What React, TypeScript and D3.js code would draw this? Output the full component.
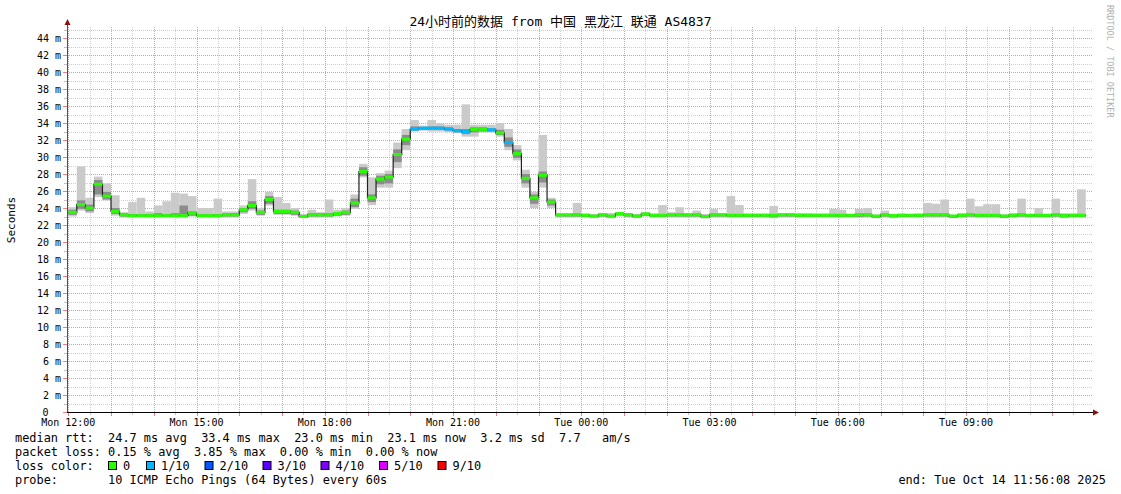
import React from 'react';
import * as d3 from 'd3';

// 12 minute consolidated steps, first one starts at Mon 11:48
const median = [
  23.5, 23.5, 24.4, 24.0, 26.8, 25.4, 23.6, 23.2, 23.1, 23.1,
  23.1, 23.1, 23.1, 23.1, 23.1, 23.4, 23.1, 23.1, 23.1, 23.2,
  23.2, 23.8, 24.3, 23.5, 25.0, 23.6, 23.6, 23.5, 23.0, 23.2,
  23.2, 23.2, 23.35, 23.5, 24.6, 28.3, 25.2, 27.4, 27.65, 30.3,
  32.1, 33.3, 33.4, 33.4, 33.4, 33.3, 33.1, 33.0, 33.26, 33.26,
  33.2, 32.85, 31.7, 30.4, 27.5, 25.2, 27.85, 24.7, 23.2, 23.2,
  23.2, 23.15, 23.05, 23.2, 23.05, 23.35, 23.2, 23.05, 23.3, 23.15,
  23.15, 23.2, 23.2, 23.2, 23.2, 23.0, 23.2, 23.2, 23.15, 23.15,
  23.15, 23.15, 23.15, 23.15, 23.2, 23.2, 23.15, 23.15, 23.15, 23.15,
  23.15, 23.15, 23.15, 23.2, 23.2, 23.05, 23.2, 23.1, 23.15, 23.15,
  23.15, 23.2, 23.2, 23.2, 23.05, 23.15, 23.2, 23.15, 23.15, 23.15,
  23.05, 23.15, 23.2, 23.15, 23.15, 23.15, 23.2, 23.1, 23.15, 23.15,
];

// highest ping of the step
const smokeHi = [
  24.1, 24.1, 28.9, 25.2, 27.7, 26.9, 25.5, 23.5, 24.7, 25.2,
  23.6, 24.3, 24.8, 25.8, 25.7, 25.4, 24.0, 24.0, 25.1, 23.6,
  23.6, 24.3, 27.4, 24.0, 25.9, 25.3, 24.6, 24.0, 23.3, 23.8,
  23.5, 25.0, 23.8, 24.0, 25.6, 29.2, 27.6, 28.1, 28.4, 31.7,
  33.3, 34.35, 33.7, 34.35, 33.96, 33.8, 33.8, 36.2, 33.8, 33.8,
  33.8, 34.0, 33.3, 31.4, 28.5, 25.9, 32.6, 25.2, 23.4, 23.4,
  24.6, 23.35, 23.3, 23.4, 23.4, 23.5, 23.4, 23.3, 23.5, 23.35,
  24.35, 23.5, 24.1, 23.35, 23.7, 23.3, 23.9, 23.35, 25.4, 24.35,
  23.35, 23.35, 23.35, 24.25, 23.35, 23.35, 23.4, 23.4, 23.35, 23.35,
  23.9, 23.8, 23.3, 23.9, 24.0, 23.2, 23.7, 23.25, 23.35, 23.3,
  23.35, 24.6, 24.5, 25.0, 23.2, 23.4, 25.1, 24.2, 24.45, 24.45,
  23.25, 23.4, 25.1, 23.3, 24.0, 23.3, 25.1, 23.4, 23.35, 26.2,
];

// lowest ping of the step
const smokeLo = [
  23.0, 23.0, 23.7, 23.4, 25.3, 24.9, 23.1, 22.9, 22.9, 22.9,
  22.9, 22.9, 22.9, 22.9, 22.9, 23.0, 22.9, 22.9, 22.9, 22.9,
  22.9, 23.3, 23.7, 23.1, 24.3, 23.2, 23.2, 23.1, 22.85, 22.9,
  22.9, 22.9, 23.0, 23.1, 23.9, 27.6, 24.35, 26.4, 26.4, 28.7,
  30.8, 33.0, 33.1, 33.0, 33.0, 32.9, 32.8, 32.4, 32.4, 32.9,
  32.9, 32.4, 30.8, 29.6, 26.4, 24.0, 26.4, 24.0, 22.9, 22.9,
  22.9, 22.85, 22.8, 22.9, 22.8, 23.0, 22.9, 22.8, 23.0, 22.85,
  22.85, 22.9, 22.9, 22.9, 22.9, 22.75, 22.9, 22.9, 22.85, 22.85,
  22.85, 22.85, 22.85, 22.8, 22.9, 22.9, 22.85, 22.85, 22.85, 22.85,
  22.85, 22.85, 22.85, 22.85, 22.9, 22.8, 22.9, 22.8, 22.85, 22.85,
  22.85, 22.9, 22.9, 22.9, 22.8, 22.85, 22.9, 22.85, 22.85, 22.85,
  22.8, 22.85, 22.9, 22.85, 22.85, 22.85, 22.9, 22.8, 22.85, 22.85,
];

// inner (darker) smoke band
const darkLo = [
  23.2, 23.2, 23.9, 23.6, 25.6, 25.0, 23.3, 23.0, 23.0, 23.0,
  23.0, 23.0, 23.0, 23.0, 23.0, 23.1, 23.0, 23.0, 23.0, 23.0,
  23.0, 23.5, 23.9, 23.2, 24.5, 23.3, 23.3, 23.2, 22.9, 23.0,
  23.0, 23.0, 23.1, 23.2, 24.1, 27.8, 24.7, 26.8, 26.9, 29.4,
  31.4, 33.1, 33.2, 33.2, 33.2, 33.1, 32.9, 32.7, 32.9, 33.0,
  33.0, 32.6, 31.2, 29.9, 26.9, 24.5, 27.0, 24.3, 23.0, 23.0,
  23.0, 22.95, 22.9, 23.0, 22.9, 23.15, 23.0, 22.9, 23.1, 22.95,
  22.95, 23.0, 23.0, 23.0, 23.0, 22.85, 23.0, 23.0, 22.95, 22.95,
  22.95, 22.95, 22.95, 22.9, 23.0, 23.0, 22.95, 22.95, 22.95, 22.95,
  22.95, 22.95, 22.95, 22.95, 23.0, 22.85, 23.0, 22.9, 22.95, 22.95,
  22.95, 23.0, 23.0, 23.0, 22.85, 22.95, 23.0, 22.95, 22.95, 22.95,
  22.85, 22.95, 23.0, 22.95, 22.95, 22.95, 23.0, 22.9, 22.95, 22.95,
];

const darkHi = [
  23.8, 23.8, 24.9, 24.4, 27.3, 25.9, 24.0, 23.4, 23.3, 23.3,
  23.3, 23.4, 23.3, 23.4, 24.3, 23.6, 23.3, 23.3, 23.3, 23.4,
  23.4, 24.0, 24.8, 23.7, 25.4, 23.8, 23.8, 23.7, 23.15, 23.4,
  23.4, 23.4, 23.5, 23.7, 25.1, 28.8, 25.6, 27.8, 28.0, 30.9,
  32.6, 33.6, 33.5, 33.6, 33.6, 33.5, 33.3, 33.3, 33.5, 33.5,
  33.4, 33.2, 32.3, 30.9, 28.0, 25.6, 28.3, 25.0, 23.3, 23.3,
  23.35, 23.3, 23.2, 23.35, 23.2, 23.45, 23.35, 23.2, 23.45, 23.3,
  23.3, 23.35, 23.35, 23.35, 23.35, 23.15, 23.35, 23.35, 23.3, 23.3,
  23.3, 23.3, 23.3, 23.3, 23.35, 23.35, 23.3, 23.3, 23.3, 23.3,
  23.3, 23.3, 23.3, 23.35, 23.35, 23.2, 23.35, 23.25, 23.3, 23.3,
  23.3, 23.35, 23.35, 23.35, 23.2, 23.3, 23.35, 23.3, 23.3, 23.3,
  23.2, 23.3, 23.35, 23.3, 23.3, 23.3, 23.35, 23.25, 23.3, 23.3,
];

// lost pings out of 10
const loss = [
  0, 0, 0, 0, 0, 0, 0, 0, 0, 0,
  0, 0, 0, 0, 0, 0, 0, 0, 0, 0,
  0, 0, 0, 0, 0, 0, 0, 0, 0, 0,
  0, 0, 0, 0, 0, 0, 0, 0, 0, 0,
  0, 1, 1, 1, 1, 1, 1, 1, 0, 0,
  1, 0, 1, 0, 0, 0, 0, 0, 0, 0,
  0, 0, 0, 0, 0, 0, 0, 0, 0, 0,
  0, 0, 0, 0, 0, 0, 0, 0, 0, 0,
  0, 0, 0, 0, 0, 0, 0, 0, 0, 0,
  0, 0, 0, 0, 0, 0, 0, 0, 0, 0,
  0, 0, 0, 0, 0, 0, 0, 0, 0, 0,
  0, 0, 0, 0, 0, 0, 0, 0, 0, 0,
];

const lossLevels = [0, 1, 2, 3, 4, 5, 9];
const lossLabels = ['0', '1/10', '2/10', '3/10', '4/10', '5/10', '9/10'];
const lossColors = ['#26ff00', '#00b8ff', '#0059ff', '#5e00ff', '#7e00ff', '#dd00ff', '#ff0000'];

const title = '24小时前的数据 from 中国 黑龙江 联通 AS4837';
const legendLines = [
  'median rtt:  24.7 ms avg  33.4 ms max  23.0 ms min  23.1 ms now  3.2 ms sd  7.7   am/s',
  'packet loss: 0.15 % avg  3.85 % max  0.00 % min  0.00 % now',
  'loss color:',
  'probe:       10 ICMP Echo Pings (64 Bytes) every 60s',
];
const endLabel = 'end: Tue Oct 14 11:56:08 2025';

const graphStart = new Date(2025, 9, 13, 11, 56, 8);
const graphEnd = new Date(2025, 9, 14, 11, 56, 8);
const firstStep = new Date(2025, 9, 13, 11, 48, 0);
const STEP = 12 * 60 * 1000;

const mono = '"DejaVu Sans Mono", monospace';

export default function App() {
  const left = 67, right = 1093, top = 27, bottom = 412;
  const x = d3.scaleTime().domain([graphStart, graphEnd]).range([65.5, 1091.5]);
  const y = d3.scaleLinear().domain([0, 45.3]).range([bottom, top]);
  const px = (v: number) => Math.round(v) + 0.5;

  const t0 = (i: number) => new Date(firstStep.getTime() + i * STEP);
  const t1 = (i: number) => new Date(firstStep.getTime() + (i + 1) * STEP);

  const pts: [number, number][] = median.map((m, i) => [x(t0(i)), y(m)]);
  pts.push([x(t1(median.length - 1)), y(median[median.length - 1])]);
  const medLine = d3.line().curve(d3.curveStepAfter)(pts) || '';

  const hours = d3.timeHour.range(graphStart, graphEnd);
  const halfHours = d3.timeMinute.every(30)!.range(graphStart, graphEnd).filter(d => d.getMinutes() === 30);
  const labelHours = hours.filter(d => d.getHours() % 3 === 0);
  const fmt = d3.timeFormat('%a %H:%M');

  const minorY = d3.range(1, 46, 2);
  const majorY = d3.range(0, 45, 2);
  const boxX = [108, 146, 204.5, 262.5, 320.5, 379, 437.5];

  return (
    <svg width={1121} height={494} style={{ position: 'absolute', left: 0, top: 0, background: '#fff' }}
      fontFamily={mono}>
      <defs>
        <clipPath id="plot">
          <rect x={left} y={top} width={right - left} height={bottom - top} />
        </clipPath>
      </defs>
      <rect width={1121} height={494} fill="#fff" />

      {/* grid */}
      {minorY.map(v => (
        <line key={'gy' + v} x1={left} x2={right} y1={px(y(v))} y2={px(y(v))}
          stroke="#cfcfcf" strokeDasharray="1,1" />
      ))}
      {halfHours.map(d => (
        <line key={'gx' + d.getTime()} x1={px(x(d))} x2={px(x(d))}
          y1={top} y2={bottom} stroke="#cfcfcf" strokeDasharray="1,1" />
      ))}
      {majorY.slice(1).map(v => (
        <line key={'my' + v} x1={left} x2={right} y1={px(y(v))} y2={px(y(v))}
          stroke="#f29595" strokeDasharray="1,1" />
      ))}
      {hours.map(d => (
        <line key={'mx' + d.getTime()} x1={px(x(d))} x2={px(x(d))}
          y1={top} y2={bottom} stroke="#f29595" strokeDasharray="1,1" />
      ))}

      {/* smoke */}
      <g clipPath="url(#plot)">
        {median.map((_, i) => (
          <rect key={'s' + i} x={x(t0(i))} width={x(t1(i)) - x(t0(i))}
            y={y(smokeHi[i])} height={y(smokeLo[i]) - y(smokeHi[i])} fill="#cacaca" />
        ))}
        {median.map((_, i) => (
          <rect key={'d' + i} x={x(t0(i))} width={x(t1(i)) - x(t0(i))}
            y={y(darkHi[i])} height={y(darkLo[i]) - y(darkHi[i])} fill="#8c8c8c" />
        ))}
        <path d={medLine} fill="none" stroke="#202020" strokeWidth={1.2} />
        {median.map((m, i) => (
          <line key={'m' + i} x1={x(t0(i))} x2={x(t1(i))} y1={y(m)} y2={y(m)}
            stroke={lossColors[lossLevels.indexOf(loss[i])]} strokeWidth={3} />
        ))}
      </g>

      {/* axis ticks */}
      {minorY.map(v => (
        <line key={'ty' + v} x1={left - 3} x2={left} y1={px(y(v))} y2={px(y(v))} stroke="#c0c0c0" />
      ))}
      {majorY.map(v => (
        <line key={'tY' + v} x1={left - 4} x2={left} y1={px(y(v))} y2={px(y(v))} stroke="#f08080" />
      ))}
      {halfHours.map(d => (
        <line key={'tx' + d.getTime()} x1={px(x(d))} x2={px(x(d))}
          y1={bottom} y2={bottom + 3} stroke="#c0c0c0" />
      ))}
      {hours.map(d => (
        <line key={'tX' + d.getTime()} x1={px(x(d))} x2={px(x(d))}
          y1={bottom} y2={bottom + 4} stroke="#f08080" />
      ))}

      {/* axes */}
      <line x1={left + 0.5} x2={left + 0.5} y1={bottom} y2={24} stroke="#505050" />
      <path d={`M${left - 2.5},25 L${left + 3.5},25 L${left + 0.5},19 Z`} fill="#8b1010" />
      <line x1={left} x2={1094} y1={bottom + 0.5} y2={bottom + 0.5} stroke="#000" />
      <path d={`M1093,${bottom - 2.5} L1093,${bottom + 3.5} L1099,${bottom + 0.5} Z`} fill="#8b1010" />

      {/* y labels */}
      {majorY.map(v => (
        v === 0
          ? <text key={'ly' + v} x={48.5} y={y(v) + 3.5} fontSize={10} textAnchor="end">0</text>
          : <text key={'ly' + v} x={61} y={y(v) + 3.5} fontSize={10} textAnchor="end">{`${v} m`}</text>
      ))}
      {/* x labels */}
      {labelHours.map(d => (
        <text key={'lx' + d.getTime()} x={x(d)} y={426} fontSize={10} textAnchor="middle">{fmt(d)}</text>
      ))}

      <text x={560.5} y={25.5} fontSize={13} textAnchor="middle"
        fontFamily={'"DejaVu Sans Mono", "Noto Sans CJK SC", monospace'}>{title}</text>

      <text transform="translate(15,220) rotate(-90)" fontSize={11} textAnchor="middle">Seconds</text>
      <text transform="translate(1107,5) rotate(90)" fontSize={8.5} fill="#b0b0b0">RRDTOOL / TOBI OETIKER</text>

      {/* legend */}
      {legendLines.map((s, i) => (
        <text key={'lg' + i} x={15} y={442 + i * 14} fontSize={11.9} xmlSpace="preserve"
          style={{ whiteSpace: 'pre' }}>{s}</text>
      ))}
      {lossLabels.map((lab, i) => (
        <g key={'lc' + i}>
          <rect x={boxX[i] + 0.5} y={461.5} width={8} height={8} fill={lossColors[i]} stroke="#000" />
          <text x={boxX[i] + 15} y={470} fontSize={11.9}>{lab}</text>
        </g>
      ))}
      <text x={1106} y={484} fontSize={11.9} textAnchor="end" xmlSpace="preserve"
        style={{ whiteSpace: 'pre' }}>{endLabel}</text>
    </svg>
  );
}
